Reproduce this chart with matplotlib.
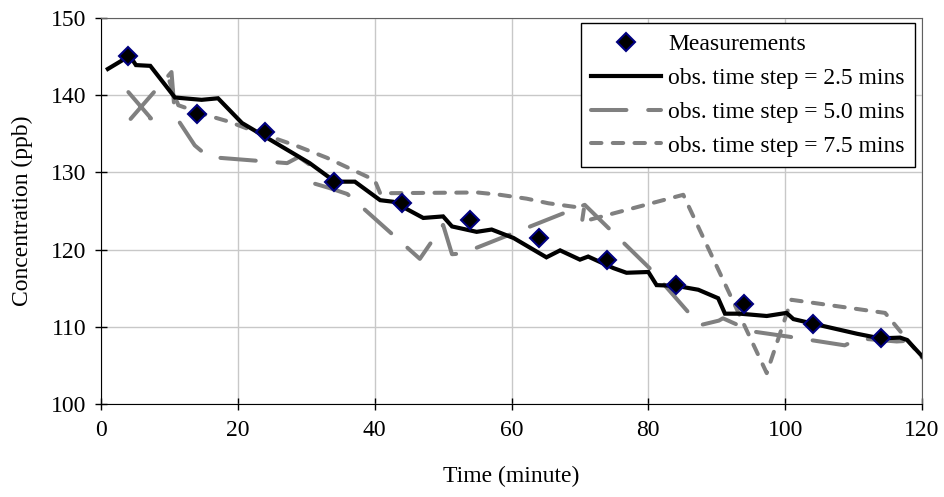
import matplotlib
matplotlib.use("Agg")
import matplotlib.pyplot as plt

#####################################################
# data
#####################################################

# measured concentrations
meas_time = [4, 14, 24, 34, 44, 54, 64, 74, 84, 94, 104, 114]
meas_conc = [145.1, 137.6, 135.2, 128.8, 126.0, 123.8, 121.5, 118.7, 115.4, 113.0, 110.4, 108.5]

# obs. time step = 2.5 mins
step25_time = [1.0, 4.2, 5.1, 7.2, 9.4, 10.8, 14.7, 17.1, 20.6, 30.5,
               34.2, 37.1, 40.8, 42.7, 47.1, 50.0, 51.3, 54.9, 57.1, 60.3,
               65.1, 67.1, 70.0, 71.2, 74.9, 76.8, 80.0, 81.2, 84.1, 87.3,
               90.2, 91.2, 93.4, 97.3, 100.2, 101.2, 104.1, 110.5, 113.9, 116.8,
               117.8, 120.0]
step25_conc = [143.4, 145.1, 143.9, 143.8, 141.3, 139.7, 139.4, 139.6, 136.4, 131.2,
               128.8, 128.8, 126.4, 126.2, 124.1, 124.3, 123.0, 122.3, 122.6, 121.5,
               119.0, 119.9, 118.7, 119.1, 117.6, 117.0, 117.1, 115.4, 115.3, 114.8,
               113.7, 111.7, 111.7, 111.4, 111.8, 111.0, 110.4, 109.1, 108.5, 108.6,
               108.3, 106.2]

# obs. time step = 5.0 mins
step50_time = [4.0, 7.3, 4.2, 10.3, 10.8, 13.7, 15.7, 27.2, 28.9, 30.5,
               31.0, 33.3, 36.0, 46.6, 50.0, 51.3, 52.8, 70.7, 80.4, 87.5,
               90.3, 90.9, 95.2, 100.7, 108.7, 110.8, 116.3, 120.0]
step50_conc = [140.4, 137.0, 136.8, 143.0, 137.4, 133.5, 132.0, 131.2, 132.0, 131.0,
               128.6, 128.0, 127.2, 118.8, 123.2, 119.4, 119.5, 125.8, 117.4, 110.2,
               110.8, 111.1, 109.4, 108.7, 107.6, 108.5, 108.1, 108.3]

# obs. time step = 7.5 mins
step75_time = [10.0, 11.3, 15.5, 18.6, 22.5, 28.4, 33.0, 38.3, 40.0, 40.8,
               55.0, 58.3, 62.2, 65.4, 69.5, 70.6, 70.3, 85.1, 97.3, 100.9,
               114.6, 120.0]
step75_conc = [141.8, 138.7, 137.4, 136.6, 135.3, 133.5, 131.9, 129.7, 129.0, 127.3,
               127.4, 127.1, 126.6, 126.0, 125.5, 125.4, 123.6, 127.1, 104.0, 113.5,
               111.8, 106.0]

#####################################################
# plot
#####################################################

plt.rcParams["font.family"] = ["Liberation Serif", "DejaVu Serif"]
plt.rcParams["font.size"] = 17

fig = plt.figure(figsize=(9.45, 4.97), dpi=100)
ax = fig.add_axes([0.1069, 0.1871, 0.8688, 0.7767])

gray = "#808080"

(l75,) = ax.plot(step75_time, step75_conc, color=gray, linewidth=2.9,
                 dashes=(2.6, 2.8), dash_capstyle="round",
                 label="obs. time step = 7.5 mins")
(l50,) = ax.plot(step50_time, step50_conc, color=gray, linewidth=2.9,
                 dashes=(8.8, 5.4), dash_capstyle="round",
                 label="obs. time step = 5.0 mins")
(l25,) = ax.plot(step25_time, step25_conc, color="black", linewidth=3.0,
                 solid_joinstyle="miter", label="obs. time step = 2.5 mins")
(lm,) = ax.plot(meas_time, meas_conc, linestyle="none", marker="D",
                markersize=9, markerfacecolor="black",
                markeredgecolor="#000080", markeredgewidth=1.5,
                label="Measurements")

ax.set_xlim(0, 120)
ax.set_ylim(100, 150)
ax.set_xticks(range(0, 121, 20))
ax.set_yticks(range(100, 151, 10))

ax.grid(color="#c8c8c8", linewidth=1)
ax.set_axisbelow(True)

ax.tick_params(axis="both", direction="inout", length=9, width=1, pad=6)
ax.tick_params(axis="x", pad=7)

for side in ["top", "right"]:
    ax.spines[side].set_color("#606060")
for side in ["left", "bottom"]:
    ax.spines[side].set_color("black")

ax.set_xlabel("Time (minute)", labelpad=18)
ax.set_ylabel("Concentration (ppb)", labelpad=13)

leg = ax.legend(
    handles=[lm, l25, l50, l75],
    loc="upper right",
    bbox_to_anchor=(0.9915, 0.987),
    borderaxespad=0,
    fancybox=False,
    framealpha=1,
    edgecolor="black",
    handlelength=2.95,
    handletextpad=0.3,
    labelspacing=0.52,
    borderpad=0.45,
)
leg.get_frame().set_linewidth(1)

plt.savefig("out.png", dpi=100)
plt.close()
